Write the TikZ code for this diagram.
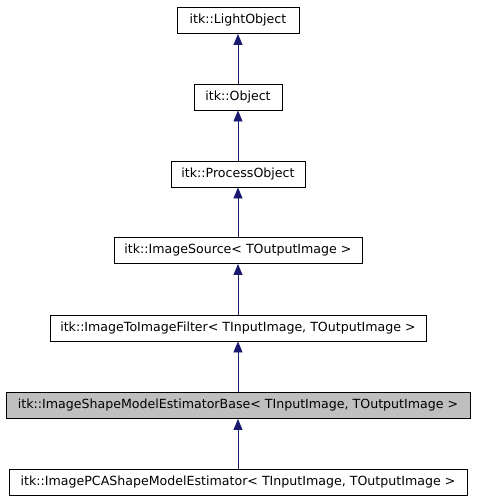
\documentclass[tikz,border=0pt]{standalone}
\usepackage{fontspec}
\setmainfont{DejaVu Sans}
\usetikzlibrary{arrows.meta}
\definecolor{edgeblue}{HTML}{191970}
\definecolor{hlgray}{HTML}{BFBFBF}
\tikzset{
  cls/.style={draw=black, fill=white, line width=0.9pt, minimum height=26pt, inner xsep=0pt, inner ysep=0pt,
    font=\fontsize{12.6}{15}\selectfont},
  hl/.style={cls, fill=hlgray},
  inh/.style={draw=edgeblue, line width=0.9pt, -{Triangle[length=11pt,width=9pt,fill=edgeblue]}}
}
\begin{document}
\begin{tikzpicture}[x=1pt,y=-1pt]
\useasboundingbox (0,0) rectangle (477,504);
\node[cls, minimum width=122pt] (lo) at (238,20.5) {itk::LightObject};
\node[cls, minimum width=88pt] (ob) at (238,97) {itk::Object};
\node[cls, minimum width=134pt] (po) at (238,174) {itk::ProcessObject};
\node[cls, minimum width=248pt] (is) at (238,250.5) {itk::ImageSource< TOutputImage >};
\node[cls, minimum width=376pt] (itf) at (238,328) {itk::ImageToImageFilter< TInputImage, TOutputImage >};
\node[hl, minimum width=464pt] (smb) at (238,405.5) {itk::ImageShapeModelEstimatorBase< TInputImage, TOutputImage >};
\node[cls, minimum width=458pt] (pca) at (238,482.5) {itk::ImagePCAShapeModelEstimator< TInputImage, TOutputImage >};
\draw[inh] (ob) -- (lo);
\draw[inh] (po) -- (ob);
\draw[inh] (is) -- (po);
\draw[inh] (itf) -- (is);
\draw[inh] (smb) -- (itf);
\draw[inh] (pca) -- (smb);
\end{tikzpicture}
\end{document}
